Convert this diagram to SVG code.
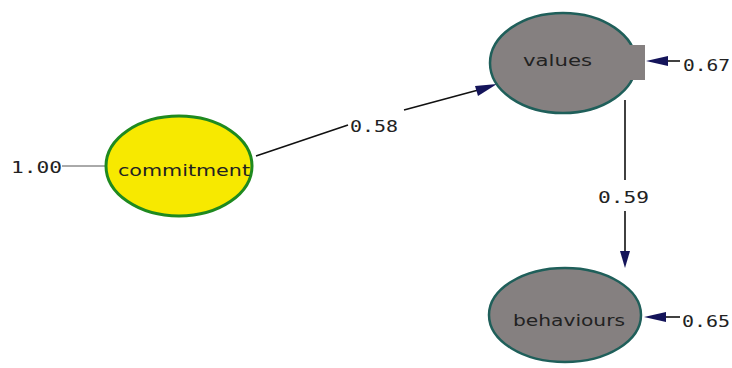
<svg xmlns="http://www.w3.org/2000/svg" width="732" height="368" viewBox="0 0 732 368">
<defs>
<style>
.num{font-family:"DejaVu Sans Mono","Liberation Mono",monospace;font-size:16px;fill:#222}
.lbl{font-family:"DejaVu Sans","Liberation Sans",sans-serif;font-size:16px;fill:#222}
.edge{stroke:#111;stroke-width:1.6;fill:none}
.head{fill:#14145a}
.latent{fill:#858080;stroke:#1f5f5a;stroke-width:2.5}
</style>
</defs>
<rect width="732" height="368" fill="#fff"/>
<g id="connectors">
<line x1="62" y1="166" x2="105" y2="166" stroke="#555" stroke-width="1"/>
<line class="edge" x1="256" y1="156" x2="348" y2="125"/>
<line class="edge" x1="404" y1="110" x2="482" y2="89"/>
<polygon class="head" points="497,84 478,96 475,86"/>
<line class="edge" x1="625" y1="100" x2="625" y2="180"/>
<line class="edge" x1="625" y1="211" x2="625" y2="255"/>
<polygon class="head" points="625,268 620,251 630,251"/>
<line class="edge" x1="660" y1="61" x2="680" y2="61" stroke-width="2"/>
<polygon class="head" points="646,61 668,56 668,66"/>
<line class="edge" x1="660" y1="317" x2="680" y2="317" stroke-width="2"/>
<polygon class="head" points="644,317 666,312 666,322"/>
</g>
<g id="commitment">
<ellipse cx="179" cy="166" rx="73" ry="50" fill="#f7e900" stroke="#1f8a1f" stroke-width="3"/>
<text class="lbl" x="118" y="176" textLength="132" lengthAdjust="spacingAndGlyphs">commitment</text>
</g>
<g id="values">
<ellipse class="latent" cx="563" cy="63" rx="73" ry="50"/>
<rect x="617" y="45" width="28" height="35" fill="#858080"/>
<text class="lbl" x="523" y="66" textLength="69" lengthAdjust="spacingAndGlyphs">values</text>
</g>
<g id="behaviours">
<ellipse class="latent" cx="565" cy="315" rx="76" ry="47"/>
<text class="lbl" x="513" y="326" textLength="112" lengthAdjust="spacingAndGlyphs">behaviours</text>
</g>
<g id="labels">
<text class="num" x="11" y="173" textLength="51" lengthAdjust="spacingAndGlyphs">1.00</text>
<text class="num" x="350" y="132" textLength="48" lengthAdjust="spacingAndGlyphs">0.58</text>
<text class="num" x="598" y="203" textLength="51" lengthAdjust="spacingAndGlyphs">0.59</text>
<text class="num" x="683" y="71" textLength="47" lengthAdjust="spacingAndGlyphs">0.67</text>
<text class="num" x="682" y="327" textLength="48" lengthAdjust="spacingAndGlyphs">0.65</text>
</g>
</svg>
